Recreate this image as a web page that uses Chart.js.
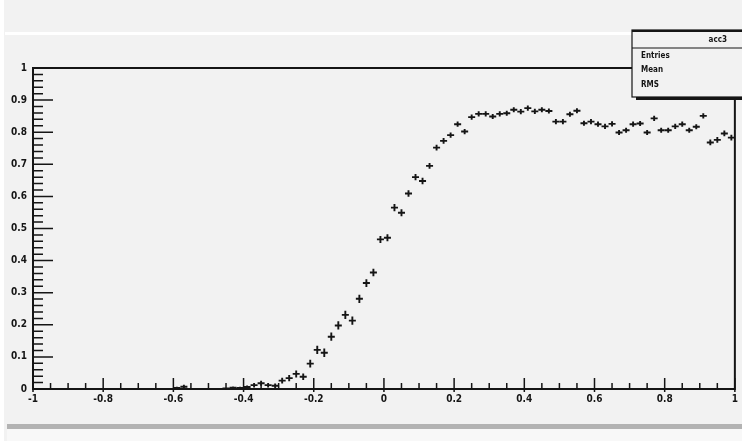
<!DOCTYPE html>
<html>
<head>
<meta charset="utf-8">
<script src="https://cdn.jsdelivr.net/npm/chart.js@4/dist/chart.umd.min.js"></script>
<style>
  html, body { margin: 0; padding: 0; background: #f2f2f2; }
  #wrap { width: 742px; height: 441px; position: relative; }
</style>
</head>
<body>
<div id="wrap"><canvas id="c" width="742" height="441"></canvas></div>
<script>
// histogram acc3: 100 bins from -1 to 1
const histName = 'acc3';
const xMin = -1, xMax = 1, nBins = 100;
const statLabels = ['Entries', 'Mean', 'RMS'];
const xTickLabels = ['-1', '-0.8', '-0.6', '-0.4', '-0.2', '0', '0.2', '0.4', '0.6', '0.8', '1'];
const yTickLabels = ['0', '0.1', '0.2', '0.3', '0.4', '0.5', '0.6', '0.7', '0.8', '0.9', '1'];

// bin contents (null = empty bin, not drawn)
const binValues = [
  null, null, null, null, null, null, null, null, null, null,
  null, null, null, null, null, null, null, null, null, null,
  0.003, 0.007, null, null, null, null, null, 0.002, 0.004, 0.003,
  0.006, 0.012, 0.018, 0.012, 0.010, 0.026, 0.034, 0.047, 0.038, 0.079,
  0.122, 0.113, 0.163, 0.198, 0.231, 0.213, 0.281, 0.330, 0.363, 0.466,
  0.471, 0.565, 0.549, 0.609, 0.660, 0.648, 0.695, 0.752, 0.773, 0.791,
  0.825, 0.802, 0.847, 0.857, 0.857, 0.849, 0.857, 0.859, 0.870, 0.864,
  0.875, 0.865, 0.870, 0.866, 0.833, 0.833, 0.856, 0.867, 0.828, 0.833,
  0.825, 0.818, 0.826, 0.799, 0.806, 0.825, 0.827, 0.799, 0.843, 0.806,
  0.806, 0.818, 0.825, 0.806, 0.817, 0.851, 0.768, 0.776, 0.796, 0.783,
];
// bin errors
const binErrors = [
  null, null, null, null, null, null, null, null, null, null,
  null, null, null, null, null, null, null, null, null, null,
  0.004, 0.006, null, null, null, null, null, 0.003, 0.004, 0.004,
  0.005, 0.007, 0.008, 0.007, 0.007, 0.009, 0.010, 0.011, 0.010, 0.012,
  0.013, 0.013, 0.013, 0.013, 0.013, 0.013, 0.013, 0.012, 0.012, 0.011,
  0.011, 0.011, 0.011, 0.010, 0.010, 0.010, 0.009, 0.009, 0.009, 0.008,
  0.008, 0.008, 0.008, 0.008, 0.008, 0.008, 0.008, 0.008, 0.008, 0.008,
  0.008, 0.008, 0.008, 0.008, 0.008, 0.008, 0.008, 0.008, 0.008, 0.008,
  0.008, 0.008, 0.008, 0.008, 0.008, 0.008, 0.008, 0.008, 0.008, 0.008,
  0.008, 0.008, 0.008, 0.008, 0.008, 0.008, 0.009, 0.009, 0.009, 0.009,
];

const binWidth = (xMax - xMin) / nBins;
const points = [];
binValues.forEach((v, i) => {
  if (v === null) return;
  const lo = xMin + i * binWidth;
  points.push({ x: lo + binWidth / 2, y: v, lo: lo, hi: lo + binWidth, err: binErrors[i] });
});

const INK = '#151515';
const tickFont = { family: '"Liberation Sans Narrow", "DejaVu Sans Condensed", sans-serif', size: 10, weight: 'bold' };

// ROOT-like canvas background, frame, inward ticks, stats box
const rootPad = {
  id: 'rootPad',
  beforeDraw(chart) {
    const { ctx, width, height } = chart;
    ctx.save();
    ctx.fillStyle = '#f2f2f2';
    ctx.fillRect(0, 0, width, height);
    ctx.fillStyle = '#ffffff';
    ctx.fillRect(5, 32, width - 5, 3);
    ctx.fillRect(0, 0, 4, height);
    ctx.fillStyle = '#b3b3b3';
    ctx.fillRect(7, 424, width - 7, 5);
    ctx.fillStyle = '#f8f8f8';
    ctx.fillRect(7, 429, width - 7, 12);
    ctx.restore();
  },
  afterDatasetsDraw(chart) {
    const { ctx, chartArea: a, scales: { x, y } } = chart;
    ctx.save();
    // error bars
    ctx.strokeStyle = INK;
    ctx.lineWidth = 1.9;
    points.forEach(p => {
      const py = y.getPixelForValue(p.y);
      ctx.beginPath();
      ctx.moveTo(x.getPixelForValue(p.lo), py);
      ctx.lineTo(x.getPixelForValue(p.hi), py);
      ctx.moveTo(x.getPixelForValue(p.x), y.getPixelForValue(p.y - p.err));
      ctx.lineTo(x.getPixelForValue(p.x), y.getPixelForValue(p.y + p.err));
      ctx.stroke();
    });

    // frame
    ctx.lineWidth = 2;
    ctx.strokeRect(a.left, a.top, a.right - a.left, a.bottom - a.top);

    // y ticks (inward)
    ctx.lineWidth = 1.5;
    ctx.beginPath();
    for (let k = 0; k <= 50; k++) {
      const py = y.getPixelForValue(k / 50);
      const len = k % 5 === 0 ? 20 : 10;
      ctx.moveTo(a.left, py);
      ctx.lineTo(a.left + len, py);
    }
    // x ticks
    for (let k = 0; k <= 40; k++) {
      const px = x.getPixelForValue(xMin + k * 0.05);
      const major = k % 4 === 0;
      ctx.moveTo(px, a.bottom + (major ? 3 : 0));
      ctx.lineTo(px, a.bottom - (major ? 11 : 6));
    }
    ctx.stroke();

    // stats box
    const bx = 632, by = 30, bw = 120, bh = 67;
    ctx.fillStyle = '#f2f2f2';
    ctx.fillRect(bx, by, bw, bh);
    ctx.fillStyle = INK;
    ctx.fillRect(bx + 4, by + bh, bw, 3);
    ctx.lineWidth = 1.2;
    ctx.strokeRect(bx, by, bw, bh);
    ctx.fillRect(bx, by, bw, 2);
    ctx.beginPath();
    ctx.moveTo(bx, 48);
    ctx.lineTo(bx + bw, 48);
    ctx.stroke();
    ctx.font = 'bold 8px "Liberation Sans Narrow", "DejaVu Sans Condensed", sans-serif';
    ctx.textBaseline = 'middle';
    ctx.textAlign = 'right';
    ctx.fillText(histName, 727, 40);
    ctx.textAlign = 'left';
    const rowsY = [56, 70, 85];
    statLabels.forEach((s, i) => ctx.fillText(s, 641, rowsY[i]));
    ctx.restore();
  },
};

new Chart(document.getElementById('c'), {
  type: 'scatter',
  data: {
    datasets: [{
      label: histName,
      data: points,
      pointRadius: 0,
      pointHoverRadius: 0,
      showLine: false,
    }],
  },
  options: {
    responsive: false,
    animation: false,
    events: [],
    layout: { padding: { left: 0, top: 68, right: 5, bottom: 0 } },
    plugins: { legend: { display: false }, tooltip: { enabled: false } },
    scales: {
      x: {
        type: 'linear',
        min: xMin,
        max: xMax,
        afterFit: s => { s.height = 52; },
        grid: { display: false, drawTicks: false },
        border: { display: false },
        ticks: {
          stepSize: 0.2,
          padding: 4,
          color: INK,
          font: tickFont,
          maxRotation: 0,
          autoSkip: false,
          callback: (v, i) => xTickLabels[i],
        },
      },
      y: {
        min: 0,
        max: 1,
        afterFit: s => { s.width = 33; },
        grid: { display: false, drawTicks: false },
        border: { display: false },
        ticks: {
          stepSize: 0.1,
          padding: 6,
          color: INK,
          font: tickFont,
          autoSkip: false,
          callback: (v, i) => yTickLabels[i],
        },
      },
    },
  },
  plugins: [rootPad],
});
</script>
</body>
</html>
